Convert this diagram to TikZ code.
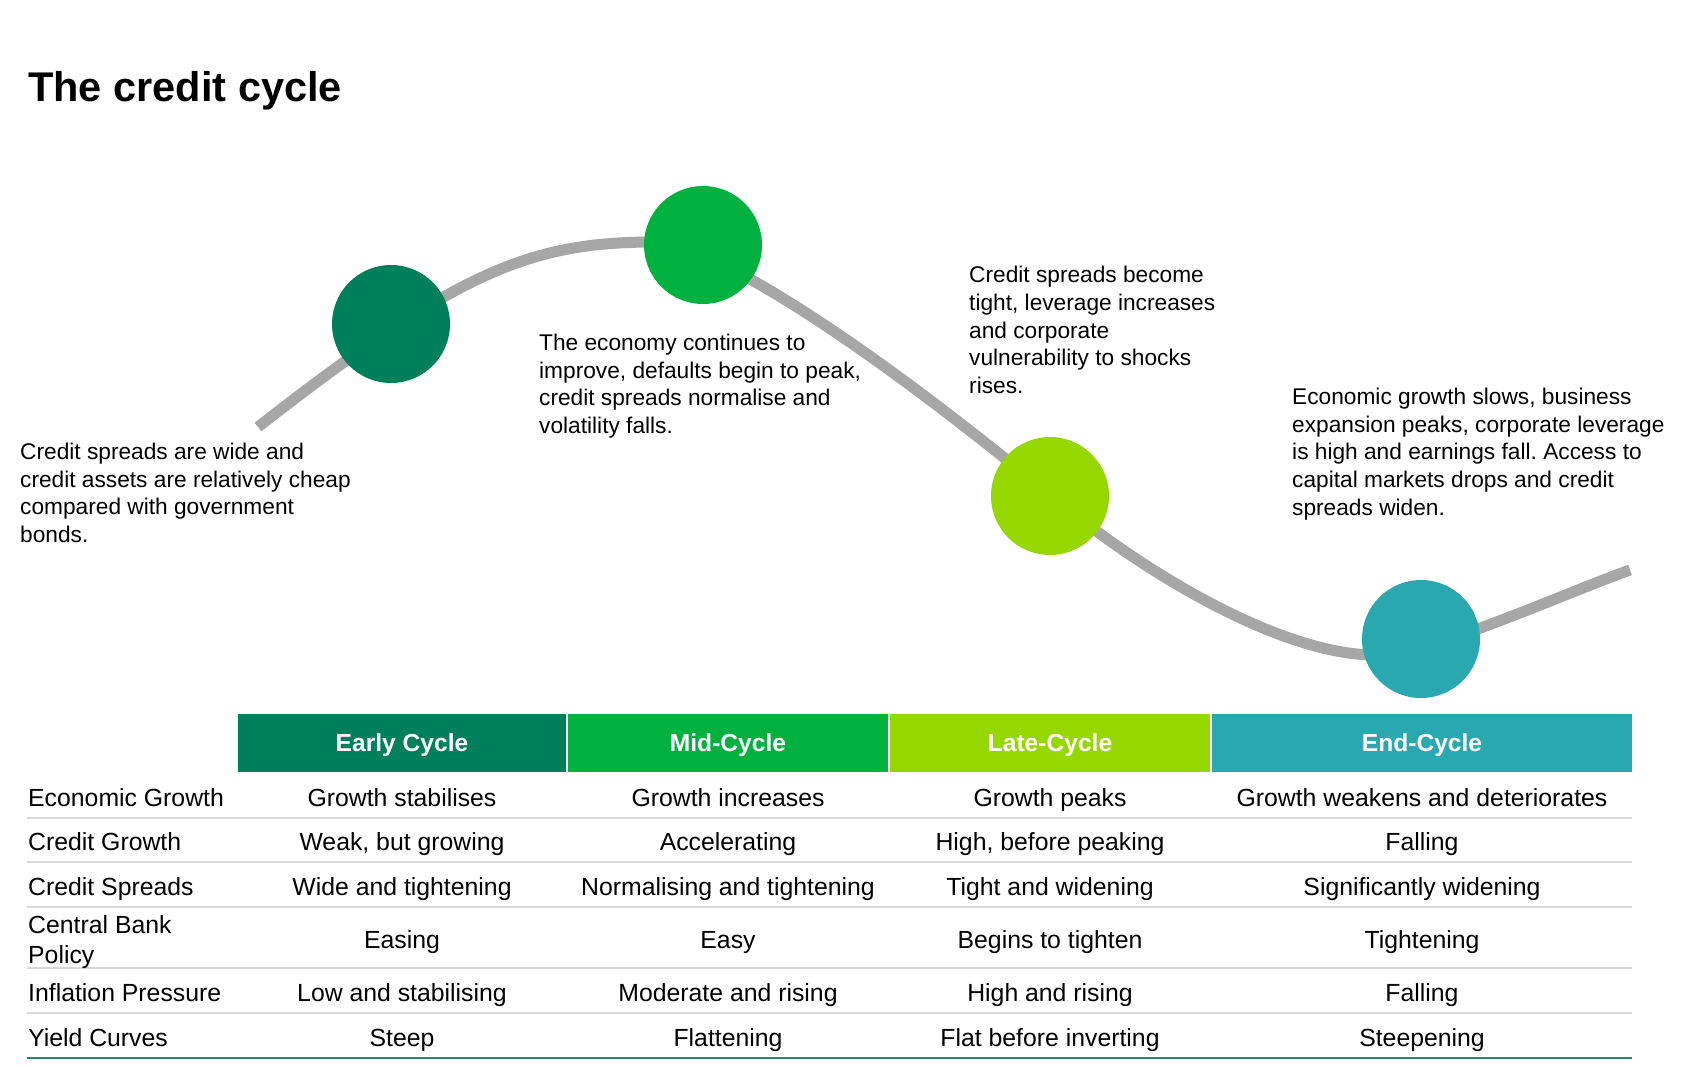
\documentclass[tikz,border=0pt]{standalone}
\usepackage{fontspec}
\setmainfont{Liberation Sans}
\frenchspacing
\definecolor{cearly}{HTML}{00805A}
\definecolor{cmid}{HTML}{00B140}
\definecolor{clate}{HTML}{97D700}
\definecolor{cend}{HTML}{2AA8B0}
\definecolor{ccurve}{HTML}{A6A6A6}
\definecolor{crule}{HTML}{D9D9D9}
\definecolor{cbottom}{HTML}{1E8E68}
\tikzset{
  para/.style={font=\fontsize{22.7}{27.7}\selectfont, align=left, anchor=north west, inner sep=0pt},
  cell/.style={font=\fontsize{24.8}{30}\selectfont, anchor=base, inner sep=0pt},
  rowlabel/.style={cell, anchor=base west},
  headbox/.style={fill=#1, text=white, font=\bfseries\fontsize{24.6}{30}\selectfont,
    minimum height=58pt, inner sep=0pt, text height=17.6pt, text depth=0pt},
  dot/.style={circle, fill=#1, minimum size=118pt, inner sep=0pt},
  curveline/.style={draw=ccurve, line width=11pt},
  rowrule/.style={draw=crule, line width=2pt},
  bottomrule/.style={draw=cbottom, line width=2.5pt}
}
\begin{document}
\begin{tikzpicture}[x=1pt,y=-1pt]
\useasboundingbox[fill=white] (0,0) rectangle (1688,1067);

% title
\node[anchor=base west, inner sep=0pt, font=\bfseries\fontsize{41.5}{50}\selectfont] (title) at (28,102) {The credit cycle};

% curve
\coordinate (cs) at (258,427);
\coordinate (cpeak) at (655,242);
\coordinate (cmidpt) at (1050,495);
\coordinate (ctrough) at (1375,655);
\coordinate (cendpt) at (1630,570);
\draw[curveline] (cs) .. controls (458,271) and (530,242) .. (cpeak)
  .. controls (705,242) and (850,330) .. (cmidpt)
  .. controls (1160,585.75) and (1290,655) .. (ctrough)
  .. controls (1430,655) and (1560,595) .. (cendpt);

% circles
\node[dot=cearly] (c1) at (391,324) {};
\node[dot=cmid]   (c2) at (703,245) {};
\node[dot=clate]  (c3) at (1050,496) {};
\node[dot=cend]   (c4) at (1421,639) {};

% descriptions
\node[para] (p1) at (20,442.7) {Credit spreads are wide and\\credit assets are relatively cheap\\compared with government\\bonds.};
\node[para] (p2) at (539,333.7) {The economy continues to\\improve, defaults begin to peak,\\credit spreads normalise and\\volatility falls.};
\node[para] (p3) at (969,266.2) {Credit spreads become\\tight, leverage increases\\and corporate\\vulnerability to shocks\\rises.};
\node[para] (p4) at (1292,387.7) {Economic growth slows, business\\expansion peaks, corporate leverage\\is high and earnings fall. Access to\\capital markets drops and credit\\spreads widen.};

% header
\node[headbox=cearly, minimum width=328pt] (hEarly) at (402,743) {Early Cycle};
\node[headbox=cmid,   minimum width=320pt] (hMid)   at (728,743) {Mid-Cycle};
\node[headbox=clate,  minimum width=320pt] (hLate)  at (1050,743) {Late-Cycle};
\node[headbox=cend,   minimum width=420pt] (hEnd)   at (1422,743) {End-Cycle};

% row rules
\foreach \yy in {818,862,907,968,1013} {
  \draw[rowrule] (27,\yy) -- (1632,\yy);
}
\draw[bottomrule] (27,1058) -- (1632,1058);

% row labels
\node[rowlabel] (l1) at (28,806) {Economic Growth};
\node[rowlabel] (l2) at (28,850) {Credit Growth};
\node[rowlabel] (l3) at (28,895) {Credit Spreads};
\node[cell, align=left, anchor=north west] (l4) at (28,915.2) {Central Bank\\Policy};
\node[rowlabel] (l5) at (28,1001) {Inflation Pressure};
\node[rowlabel] (l6) at (28,1046) {Yield Curves};

% Early
\node[cell] (e1) at (402,806) {Growth stabilises};
\node[cell] (e2) at (402,850) {Weak, but growing};
\node[cell] (e3) at (402,895) {Wide and tightening};
\node[cell] (e4) at (402,948) {Easing};
\node[cell] (e5) at (402,1001) {Low and stabilising};
\node[cell] (e6) at (402,1046) {Steep};
% Mid
\node[cell] (m1) at (728,806) {Growth increases};
\node[cell] (m2) at (728,850) {Accelerating};
\node[cell] (m3) at (728,895) {Normalising and tightening};
\node[cell] (m4) at (728,948) {Easy};
\node[cell] (m5) at (728,1001) {Moderate and rising};
\node[cell] (m6) at (728,1046) {Flattening};
% Late
\node[cell] (t1) at (1050,806) {Growth peaks};
\node[cell] (t2) at (1050,850) {High, before peaking};
\node[cell] (t3) at (1050,895) {Tight and widening};
\node[cell] (t4) at (1050,948) {Begins to tighten};
\node[cell] (t5) at (1050,1001) {High and rising};
\node[cell] (t6) at (1050,1046) {Flat before inverting};
% End
\node[cell] (n1) at (1422,806) {Growth weakens and deteriorates};
\node[cell] (n2) at (1422,850) {Falling};
\node[cell] (n3) at (1422,895) {Significantly widening};
\node[cell] (n4) at (1422,948) {Tightening};
\node[cell] (n5) at (1422,1001) {Falling};
\node[cell] (n6) at (1422,1046) {Steepening};
\end{tikzpicture}
\end{document}
